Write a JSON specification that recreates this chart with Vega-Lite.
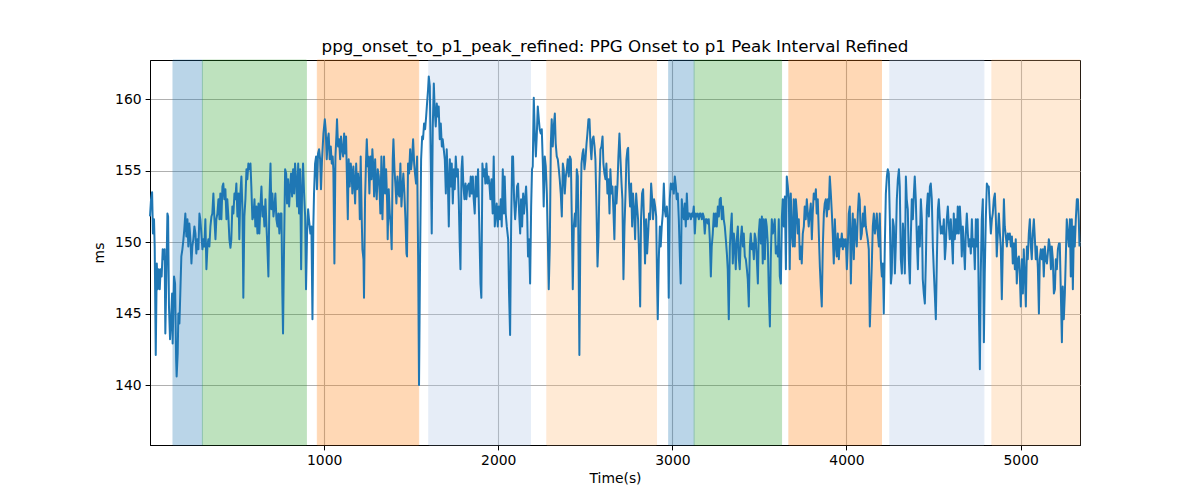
{
"$schema": "https://vega.github.io/schema/vega-lite/v6.json",
"width": 930,
"height": 385,
"autosize": {"type": "none"},
"padding": {"left": 150, "top": 60, "right": 120, "bottom": 55},
"background": "white",
"config": {
 "font": "DejaVu Sans",
 "view": {"stroke": "black", "strokeWidth": 1},
 "axis": {"labelFont": "DejaVu Sans", "labelFontSize": 13.9, "labelColor": "black", "titleFont": "DejaVu Sans", "titleFontSize": 13.9, "titleFontWeight": "normal", "titleColor": "black", "tickColor": "black", "tickSize": 4.9, "tickWidth": 1, "domainColor": "black", "gridColor": "#b0b0b0", "gridWidth": 1.1, "labelPadding": 4}
},
"title": {"text": "ppg_onset_to_p1_peak_refined: PPG Onset to p1 Peak Interval Refined", "font": "DejaVu Sans", "fontSize": 16.7, "fontWeight": "normal", "color": "black", "baseline": "alphabetic", "offset": 8, "dy": 17, "anchor": "middle"},
"datasets": {
 "bands": [
  {"start": 132, "end": 301, "phase": "A"},
  {"start": 301, "end": 898, "phase": "B"},
  {"start": 961, "end": 1543, "phase": "C"},
  {"start": 1601, "end": 2185, "phase": "D"},
  {"start": 2279, "end": 2909, "phase": "E"},
  {"start": 2979, "end": 3125, "phase": "A"},
  {"start": 3125, "end": 3627, "phase": "B"},
  {"start": 3669, "end": 4201, "phase": "C"},
  {"start": 4249, "end": 4789, "phase": "D"},
  {"start": 4835, "end": 5341, "phase": "E"}
 ],
 "series": [
{"t":0,"v":151.8},{"t":6,"v":153.0},{"t":12,"v":153.5},{"t":17,"v":150.6},{"t":23,"v":151.6},{"t":27,"v":149.7},{"t":33,"v":142.1},{"t":39,"v":148.5},{"t":44,"v":146.7},{"t":50,"v":148.1},{"t":56,"v":146.7},{"t":61,"v":148.1},{"t":67,"v":147.6},{"t":73,"v":149.5},{"t":79,"v":148.8},{"t":84,"v":149.5},{"t":88,"v":143.6},{"t":94,"v":147.6},{"t":100,"v":152.0},{"t":104,"v":151.8},{"t":109,"v":145.5},{"t":115,"v":143.2},{"t":121,"v":144.6},{"t":127,"v":146.4},{"t":130,"v":142.9},{"t":138,"v":147.6},{"t":144,"v":147.1},{"t":150,"v":141.8},{"t":153,"v":140.6},{"t":159,"v":142.2},{"t":163,"v":145.0},{"t":169,"v":144.3},{"t":174,"v":146.4},{"t":180,"v":149.0},{"t":186,"v":149.5},{"t":192,"v":150.2},{"t":197,"v":150.9},{"t":203,"v":152.0},{"t":209,"v":150.4},{"t":215,"v":151.6},{"t":220,"v":149.7},{"t":226,"v":151.3},{"t":232,"v":150.2},{"t":238,"v":148.5},{"t":243,"v":149.7},{"t":249,"v":150.2},{"t":255,"v":151.1},{"t":261,"v":150.6},{"t":266,"v":149.2},{"t":272,"v":150.2},{"t":278,"v":149.5},{"t":284,"v":152.0},{"t":289,"v":151.6},{"t":295,"v":150.6},{"t":301,"v":149.5},{"t":307,"v":150.2},{"t":312,"v":149.7},{"t":318,"v":151.6},{"t":324,"v":148.1},{"t":330,"v":149.7},{"t":335,"v":150.2},{"t":341,"v":149.7},{"t":347,"v":151.1},{"t":353,"v":151.8},{"t":358,"v":152.0},{"t":364,"v":153.4},{"t":370,"v":151.6},{"t":376,"v":150.2},{"t":381,"v":151.6},{"t":387,"v":152.0},{"t":393,"v":153.0},{"t":399,"v":151.6},{"t":404,"v":153.4},{"t":410,"v":151.6},{"t":416,"v":153.9},{"t":421,"v":154.1},{"t":427,"v":153.0},{"t":433,"v":153.7},{"t":439,"v":151.6},{"t":444,"v":153.0},{"t":450,"v":151.8},{"t":456,"v":150.2},{"t":462,"v":149.6},{"t":467,"v":150.2},{"t":473,"v":152.5},{"t":479,"v":152.0},{"t":485,"v":153.4},{"t":490,"v":153.0},{"t":496,"v":154.1},{"t":502,"v":151.8},{"t":508,"v":153.4},{"t":513,"v":150.2},{"t":519,"v":153.4},{"t":525,"v":154.6},{"t":531,"v":152.3},{"t":536,"v":146.1},{"t":542,"v":151.8},{"t":548,"v":153.0},{"t":554,"v":155.1},{"t":559,"v":154.4},{"t":565,"v":155.5},{"t":571,"v":155.1},{"t":577,"v":155.5},{"t":582,"v":153.9},{"t":588,"v":151.6},{"t":594,"v":151.8},{"t":600,"v":153.0},{"t":605,"v":151.1},{"t":611,"v":152.5},{"t":617,"v":150.6},{"t":623,"v":152.7},{"t":628,"v":150.6},{"t":634,"v":152.5},{"t":640,"v":153.9},{"t":646,"v":151.8},{"t":651,"v":152.5},{"t":657,"v":151.1},{"t":663,"v":153.0},{"t":669,"v":151.1},{"t":674,"v":149.7},{"t":680,"v":147.6},{"t":686,"v":153.0},{"t":692,"v":155.5},{"t":697,"v":152.3},{"t":703,"v":153.4},{"t":709,"v":151.8},{"t":715,"v":152.5},{"t":720,"v":153.4},{"t":726,"v":151.6},{"t":732,"v":151.1},{"t":737,"v":152.0},{"t":743,"v":150.6},{"t":749,"v":152.0},{"t":755,"v":152.0},{"t":760,"v":146.4},{"t":764,"v":143.6},{"t":770,"v":149.7},{"t":776,"v":155.1},{"t":782,"v":154.8},{"t":787,"v":152.7},{"t":793,"v":154.4},{"t":799,"v":152.5},{"t":805,"v":153.9},{"t":810,"v":154.8},{"t":816,"v":153.2},{"t":822,"v":155.1},{"t":828,"v":153.4},{"t":833,"v":155.5},{"t":839,"v":154.4},{"t":845,"v":152.5},{"t":851,"v":155.5},{"t":856,"v":152.0},{"t":862,"v":155.1},{"t":868,"v":148.1},{"t":873,"v":153.4},{"t":879,"v":155.5},{"t":885,"v":153.4},{"t":891,"v":151.8},{"t":896,"v":146.7},{"t":902,"v":150.6},{"t":908,"v":152.3},
{"t":913,"v":151.6},{"t":921,"v":150.6},{"t":927,"v":151.1},{"t":933,"v":144.6},{"t":938,"v":151.1},{"t":942,"v":153.4},{"t":948,"v":155.5},{"t":954,"v":156.0},{"t":959,"v":153.7},{"t":965,"v":156.2},{"t":971,"v":156.5},{"t":977,"v":155.8},{"t":982,"v":153.7},{"t":988,"v":155.8},{"t":996,"v":157.6},{"t":1004,"v":158.6},{"t":1009,"v":157.9},{"t":1015,"v":155.8},{"t":1021,"v":157.2},{"t":1026,"v":157.6},{"t":1032,"v":155.8},{"t":1038,"v":156.7},{"t":1044,"v":155.5},{"t":1049,"v":156.0},{"t":1053,"v":155.1},{"t":1059,"v":148.5},{"t":1065,"v":156.0},{"t":1071,"v":157.6},{"t":1074,"v":158.6},{"t":1080,"v":156.7},{"t":1086,"v":157.2},{"t":1092,"v":155.8},{"t":1097,"v":157.4},{"t":1103,"v":156.5},{"t":1109,"v":156.0},{"t":1115,"v":157.6},{"t":1120,"v":156.2},{"t":1126,"v":157.4},{"t":1132,"v":153.9},{"t":1136,"v":151.6},{"t":1141,"v":155.8},{"t":1147,"v":153.9},{"t":1153,"v":155.5},{"t":1159,"v":154.6},{"t":1162,"v":153.4},{"t":1168,"v":155.3},{"t":1174,"v":153.9},{"t":1178,"v":152.7},{"t":1184,"v":155.5},{"t":1189,"v":153.7},{"t":1195,"v":154.8},{"t":1201,"v":153.9},{"t":1205,"v":151.6},{"t":1210,"v":156.0},{"t":1216,"v":151.6},{"t":1220,"v":149.5},{"t":1226,"v":148.8},{"t":1229,"v":146.1},{"t":1235,"v":153.0},{"t":1241,"v":155.8},{"t":1245,"v":157.2},{"t":1251,"v":155.3},{"t":1254,"v":156.0},{"t":1260,"v":153.4},{"t":1266,"v":156.0},{"t":1272,"v":154.4},{"t":1277,"v":156.5},{"t":1283,"v":155.1},{"t":1287,"v":153.2},{"t":1293,"v":155.8},{"t":1298,"v":153.9},{"t":1302,"v":153.0},{"t":1308,"v":155.1},{"t":1314,"v":154.6},{"t":1319,"v":153.4},{"t":1323,"v":152.0},{"t":1329,"v":156.0},{"t":1335,"v":151.6},{"t":1341,"v":154.8},{"t":1344,"v":156.0},{"t":1350,"v":153.4},{"t":1356,"v":155.1},{"t":1362,"v":152.7},{"t":1365,"v":150.2},{"t":1371,"v":153.7},{"t":1377,"v":152.0},{"t":1383,"v":151.1},{"t":1388,"v":149.5},{"t":1394,"v":155.8},{"t":1398,"v":157.2},{"t":1404,"v":155.1},{"t":1410,"v":153.9},{"t":1415,"v":152.7},{"t":1421,"v":154.6},{"t":1427,"v":153.4},{"t":1432,"v":153.2},{"t":1438,"v":155.5},{"t":1444,"v":152.5},{"t":1450,"v":153.9},{"t":1455,"v":154.8},{"t":1461,"v":153.4},{"t":1467,"v":151.6},{"t":1473,"v":149.2},{"t":1476,"v":149.0},{"t":1482,"v":155.5},{"t":1488,"v":154.8},{"t":1494,"v":156.5},{"t":1499,"v":155.1},{"t":1505,"v":155.8},{"t":1511,"v":157.2},{"t":1517,"v":155.5},{"t":1522,"v":154.8},{"t":1528,"v":154.1},{"t":1534,"v":156.0},{"t":1540,"v":148.8},{"t":1545,"v":140.0},{"t":1551,"v":148.8},{"t":1557,"v":155.8},{"t":1563,"v":157.4},{"t":1568,"v":157.2},{"t":1574,"v":158.3},{"t":1580,"v":157.9},{"t":1586,"v":158.8},{"t":1591,"v":159.7},{"t":1597,"v":160.7},{"t":1601,"v":161.6},{"t":1607,"v":160.9},{"t":1612,"v":156.2},{"t":1618,"v":150.6},{"t":1624,"v":158.1},{"t":1630,"v":161.1},{"t":1635,"v":159.3},{"t":1641,"v":158.1},{"t":1647,"v":159.7},{"t":1653,"v":158.8},{"t":1658,"v":159.5},{"t":1664,"v":157.2},{"t":1670,"v":158.3},{"t":1676,"v":156.7},{"t":1681,"v":157.2},{"t":1687,"v":156.5},{"t":1693,"v":155.8},{"t":1699,"v":153.4},{"t":1704,"v":156.5},{"t":1710,"v":154.6},{"t":1716,"v":151.1},{"t":1722,"v":155.8},{"t":1727,"v":153.9},{"t":1733,"v":155.5},{"t":1739,"v":152.7},{"t":1745,"v":155.1},{"t":1750,"v":153.7},{"t":1756,"v":156.0},{"t":1762,"v":154.6},{"t":1768,"v":155.1},{"t":1773,"v":153.0},{"t":1779,"v":149.7},{"t":1783,"v":148.1},{"t":1789,"v":155.1},{"t":1794,"v":156.0},{"t":1800,"v":153.9},{"t":1806,"v":153.0},{"t":1812,"v":154.1},{"t":1817,"v":153.0},{"t":1823,"v":153.9},
{"t":1831,"v":154.1},{"t":1836,"v":153.2},{"t":1842,"v":154.6},{"t":1848,"v":153.4},{"t":1854,"v":154.6},{"t":1859,"v":153.0},{"t":1865,"v":152.0},{"t":1871,"v":154.6},{"t":1877,"v":153.2},{"t":1884,"v":155.1},{"t":1892,"v":150.6},{"t":1898,"v":147.1},{"t":1903,"v":146.1},{"t":1909,"v":155.5},{"t":1915,"v":154.6},{"t":1921,"v":155.1},{"t":1926,"v":154.1},{"t":1932,"v":155.5},{"t":1938,"v":154.1},{"t":1944,"v":154.6},{"t":1949,"v":154.1},{"t":1955,"v":153.0},{"t":1961,"v":154.4},{"t":1968,"v":152.0},{"t":1974,"v":156.0},{"t":1980,"v":151.1},{"t":1986,"v":152.0},{"t":1991,"v":152.7},{"t":1997,"v":151.1},{"t":2003,"v":152.5},{"t":2009,"v":151.6},{"t":2014,"v":153.0},{"t":2020,"v":151.1},{"t":2026,"v":155.1},{"t":2032,"v":152.0},{"t":2037,"v":154.6},{"t":2043,"v":152.0},{"t":2049,"v":151.1},{"t":2057,"v":150.2},{"t":2062,"v":146.4},{"t":2068,"v":143.5},{"t":2074,"v":151.1},{"t":2080,"v":156.0},{"t":2085,"v":156.0},{"t":2091,"v":153.0},{"t":2097,"v":151.6},{"t":2103,"v":152.7},{"t":2108,"v":153.9},{"t":2114,"v":154.1},{"t":2120,"v":152.0},{"t":2126,"v":150.6},{"t":2131,"v":153.0},{"t":2137,"v":151.1},{"t":2143,"v":153.4},{"t":2148,"v":152.0},{"t":2154,"v":153.0},{"t":2160,"v":153.9},{"t":2166,"v":152.0},{"t":2171,"v":149.0},{"t":2177,"v":150.2},{"t":2183,"v":147.1},{"t":2189,"v":152.5},{"t":2194,"v":155.1},{"t":2198,"v":155.3},{"t":2204,"v":160.1},{"t":2210,"v":157.6},{"t":2216,"v":156.0},{"t":2221,"v":157.4},{"t":2227,"v":159.5},{"t":2233,"v":158.6},{"t":2238,"v":157.9},{"t":2244,"v":157.6},{"t":2250,"v":157.9},{"t":2256,"v":155.5},{"t":2261,"v":152.5},{"t":2267,"v":156.0},{"t":2273,"v":155.3},{"t":2279,"v":153.4},{"t":2284,"v":150.6},{"t":2290,"v":146.7},{"t":2296,"v":149.7},{"t":2302,"v":156.9},{"t":2307,"v":158.6},{"t":2313,"v":156.7},{"t":2319,"v":158.1},{"t":2325,"v":159.0},{"t":2330,"v":156.9},{"t":2336,"v":156.0},{"t":2342,"v":155.8},{"t":2348,"v":155.1},{"t":2353,"v":154.4},{"t":2359,"v":153.4},{"t":2365,"v":151.8},{"t":2371,"v":155.5},{"t":2376,"v":155.1},{"t":2382,"v":153.4},{"t":2388,"v":154.6},{"t":2394,"v":155.1},{"t":2399,"v":155.8},{"t":2405,"v":154.6},{"t":2411,"v":156.0},{"t":2417,"v":155.8},{"t":2422,"v":152.0},{"t":2428,"v":146.7},{"t":2434,"v":151.1},{"t":2440,"v":152.0},{"t":2445,"v":151.1},{"t":2451,"v":155.1},{"t":2457,"v":154.6},{"t":2463,"v":146.4},{"t":2466,"v":142.1},{"t":2472,"v":151.1},{"t":2478,"v":155.5},{"t":2484,"v":156.2},{"t":2489,"v":156.5},{"t":2495,"v":155.1},{"t":2501,"v":155.8},{"t":2507,"v":156.9},{"t":2512,"v":157.6},{"t":2518,"v":158.6},{"t":2524,"v":158.6},{"t":2530,"v":156.7},{"t":2535,"v":155.8},{"t":2541,"v":157.2},{"t":2547,"v":157.4},{"t":2553,"v":156.7},{"t":2558,"v":155.8},{"t":2564,"v":152.5},{"t":2570,"v":148.3},{"t":2576,"v":150.4},{"t":2581,"v":154.1},{"t":2587,"v":156.5},{"t":2593,"v":156.7},{"t":2599,"v":157.4},{"t":2604,"v":155.5},{"t":2610,"v":154.8},{"t":2616,"v":154.4},{"t":2621,"v":155.5},{"t":2627,"v":153.4},{"t":2633,"v":154.4},{"t":2639,"v":152.0},{"t":2644,"v":155.1},{"t":2650,"v":153.4},{"t":2656,"v":153.9},{"t":2662,"v":152.0},{"t":2667,"v":150.2},{"t":2673,"v":153.9},{"t":2679,"v":152.7},{"t":2685,"v":154.1},{"t":2690,"v":156.0},{"t":2696,"v":157.6},{"t":2702,"v":155.8},{"t":2708,"v":154.1},{"t":2713,"v":153.0},{"t":2719,"v":147.4},{"t":2725,"v":151.1},{"t":2731,"v":153.4},{"t":2736,"v":155.8},{"t":2742,"v":156.5},
{"t":2746,"v":156.6},{"t":2751,"v":154.1},{"t":2757,"v":152.5},{"t":2763,"v":154.1},{"t":2769,"v":151.1},{"t":2774,"v":153.4},{"t":2780,"v":152.3},{"t":2786,"v":150.2},{"t":2792,"v":153.4},{"t":2797,"v":152.5},{"t":2803,"v":151.6},{"t":2809,"v":149.0},{"t":2815,"v":145.5},{"t":2820,"v":151.6},{"t":2826,"v":153.4},{"t":2832,"v":153.7},{"t":2838,"v":151.1},{"t":2843,"v":148.5},{"t":2849,"v":151.6},{"t":2855,"v":149.2},{"t":2861,"v":150.6},{"t":2866,"v":152.0},{"t":2872,"v":151.6},{"t":2878,"v":154.1},{"t":2884,"v":153.0},{"t":2889,"v":151.6},{"t":2895,"v":153.0},{"t":2901,"v":152.5},{"t":2907,"v":151.8},{"t":2912,"v":147.4},{"t":2916,"v":144.6},{"t":2922,"v":148.8},{"t":2928,"v":151.1},{"t":2933,"v":149.7},{"t":2939,"v":151.1},{"t":2945,"v":152.0},{"t":2951,"v":154.1},{"t":2956,"v":152.3},{"t":2962,"v":151.8},{"t":2968,"v":152.5},{"t":2974,"v":151.6},{"t":2979,"v":146.1},{"t":2985,"v":153.0},{"t":2991,"v":154.1},{"t":2997,"v":153.7},{"t":3002,"v":154.1},{"t":3008,"v":153.4},{"t":3014,"v":154.6},{"t":3020,"v":153.9},{"t":3025,"v":153.0},{"t":3031,"v":153.4},{"t":3037,"v":151.6},{"t":3043,"v":149.0},{"t":3048,"v":147.1},{"t":3054,"v":153.0},{"t":3060,"v":152.0},{"t":3066,"v":151.6},{"t":3071,"v":152.7},{"t":3077,"v":151.1},{"t":3083,"v":153.4},{"t":3089,"v":151.6},{"t":3094,"v":152.0},{"t":3100,"v":152.0},{"t":3106,"v":151.6},{"t":3112,"v":152.0},{"t":3117,"v":151.8},{"t":3123,"v":152.5},{"t":3129,"v":150.6},{"t":3135,"v":152.0},{"t":3140,"v":151.8},{"t":3146,"v":152.0},{"t":3152,"v":151.6},{"t":3158,"v":152.0},{"t":3163,"v":152.0},{"t":3169,"v":151.6},{"t":3175,"v":152.0},{"t":3180,"v":151.8},{"t":3186,"v":150.6},{"t":3192,"v":151.6},{"t":3198,"v":151.6},{"t":3203,"v":151.3},{"t":3209,"v":151.6},{"t":3215,"v":150.2},{"t":3221,"v":147.6},{"t":3226,"v":149.7},{"t":3232,"v":150.6},{"t":3238,"v":152.0},{"t":3244,"v":151.1},{"t":3249,"v":152.0},{"t":3255,"v":151.1},{"t":3261,"v":152.5},{"t":3267,"v":151.8},{"t":3272,"v":153.0},{"t":3278,"v":153.1},{"t":3284,"v":151.6},{"t":3290,"v":152.5},{"t":3295,"v":151.6},{"t":3301,"v":151.1},{"t":3307,"v":150.2},{"t":3313,"v":149.2},{"t":3318,"v":148.1},{"t":3324,"v":144.6},{"t":3330,"v":149.7},{"t":3336,"v":151.1},{"t":3341,"v":152.0},{"t":3347,"v":148.5},{"t":3353,"v":150.6},{"t":3359,"v":149.7},{"t":3364,"v":148.1},{"t":3370,"v":150.2},{"t":3376,"v":151.1},{"t":3382,"v":148.8},{"t":3387,"v":148.1},{"t":3393,"v":150.2},{"t":3399,"v":151.1},{"t":3405,"v":149.7},{"t":3410,"v":150.6},{"t":3416,"v":149.0},{"t":3422,"v":148.8},{"t":3428,"v":148.1},{"t":3433,"v":147.4},{"t":3439,"v":145.5},{"t":3445,"v":149.7},{"t":3450,"v":150.6},{"t":3456,"v":149.5},{"t":3462,"v":149.9},{"t":3468,"v":148.8},{"t":3473,"v":150.6},{"t":3479,"v":150.2},{"t":3485,"v":148.8},{"t":3491,"v":147.1},{"t":3496,"v":150.6},{"t":3502,"v":151.6},{"t":3508,"v":149.9},{"t":3514,"v":151.8},{"t":3519,"v":148.5},{"t":3525,"v":151.6},{"t":3531,"v":148.8},{"t":3537,"v":151.6},{"t":3542,"v":151.1},{"t":3548,"v":149.9},{"t":3554,"v":146.4},{"t":3560,"v":144.1},{"t":3565,"v":148.8},{"t":3571,"v":151.6},{"t":3577,"v":150.6},{"t":3583,"v":151.1},{"t":3588,"v":151.6},{"t":3594,"v":149.2},{"t":3600,"v":149.7},{"t":3606,"v":149.0},{"t":3611,"v":151.6},{"t":3617,"v":147.6},{"t":3623,"v":147.1},{"t":3629,"v":151.8},{"t":3634,"v":153.0},{"t":3640,"v":151.1},{"t":3646,"v":153.2},{"t":3652,"v":148.1},{"t":3657,"v":154.6},{"t":3663,"v":153.9},{"t":3669,"v":153.0},
{"t":3674,"v":148.1},{"t":3680,"v":153.4},{"t":3686,"v":150.6},{"t":3692,"v":149.7},{"t":3697,"v":153.0},{"t":3703,"v":149.7},{"t":3709,"v":153.0},{"t":3715,"v":152.0},{"t":3720,"v":150.6},{"t":3726,"v":151.6},{"t":3732,"v":148.8},{"t":3738,"v":149.7},{"t":3743,"v":148.5},{"t":3749,"v":150.6},{"t":3755,"v":151.1},{"t":3760,"v":152.5},{"t":3766,"v":151.6},{"t":3772,"v":153.0},{"t":3778,"v":152.0},{"t":3783,"v":151.1},{"t":3789,"v":152.0},{"t":3795,"v":152.7},{"t":3801,"v":150.2},{"t":3806,"v":152.0},{"t":3812,"v":153.4},{"t":3818,"v":153.0},{"t":3824,"v":153.7},{"t":3829,"v":152.0},{"t":3835,"v":153.0},{"t":3841,"v":150.6},{"t":3847,"v":148.3},{"t":3852,"v":146.9},{"t":3858,"v":145.5},{"t":3864,"v":149.7},{"t":3870,"v":152.0},{"t":3875,"v":152.7},{"t":3881,"v":153.0},{"t":3887,"v":151.8},{"t":3893,"v":153.0},{"t":3898,"v":152.3},{"t":3904,"v":154.6},{"t":3910,"v":153.4},{"t":3916,"v":152.0},{"t":3921,"v":150.6},{"t":3927,"v":148.5},{"t":3933,"v":151.6},{"t":3939,"v":149.7},{"t":3944,"v":149.0},{"t":3950,"v":150.6},{"t":3956,"v":148.8},{"t":3962,"v":150.2},{"t":3967,"v":149.7},{"t":3973,"v":150.6},{"t":3979,"v":149.5},{"t":3985,"v":150.2},{"t":3990,"v":149.7},{"t":3996,"v":150.2},{"t":4002,"v":148.1},{"t":4008,"v":149.9},{"t":4013,"v":152.0},{"t":4019,"v":152.5},{"t":4025,"v":147.1},{"t":4031,"v":150.6},{"t":4036,"v":152.0},{"t":4042,"v":148.8},{"t":4048,"v":151.6},{"t":4054,"v":150.6},{"t":4059,"v":149.7},{"t":4065,"v":152.0},{"t":4071,"v":153.4},{"t":4076,"v":153.0},{"t":4082,"v":150.2},{"t":4088,"v":150.6},{"t":4094,"v":152.0},{"t":4099,"v":151.1},{"t":4105,"v":152.5},{"t":4111,"v":151.1},{"t":4117,"v":150.6},{"t":4122,"v":150.2},{"t":4128,"v":149.5},{"t":4134,"v":144.1},{"t":4140,"v":146.4},{"t":4145,"v":148.3},{"t":4151,"v":151.1},{"t":4157,"v":152.0},{"t":4163,"v":150.6},{"t":4168,"v":151.1},{"t":4174,"v":152.0},{"t":4180,"v":150.6},{"t":4186,"v":149.7},{"t":4191,"v":152.0},{"t":4197,"v":148.8},{"t":4203,"v":147.6},{"t":4209,"v":148.5},{"t":4214,"v":145.0},{"t":4220,"v":149.7},{"t":4226,"v":153.4},{"t":4232,"v":154.6},{"t":4237,"v":155.1},{"t":4243,"v":154.8},{"t":4249,"v":151.6},{"t":4255,"v":147.1},{"t":4260,"v":147.8},{"t":4266,"v":151.6},{"t":4272,"v":151.1},{"t":4278,"v":147.8},{"t":4283,"v":149.7},{"t":4289,"v":153.0},{"t":4295,"v":154.4},{"t":4301,"v":155.1},{"t":4306,"v":153.9},{"t":4312,"v":148.8},{"t":4318,"v":147.8},{"t":4324,"v":151.3},{"t":4329,"v":150.2},{"t":4335,"v":147.8},{"t":4341,"v":154.6},{"t":4346,"v":153.0},{"t":4352,"v":152.3},{"t":4358,"v":148.8},{"t":4364,"v":147.1},{"t":4369,"v":150.2},{"t":4375,"v":153.0},{"t":4381,"v":151.6},{"t":4387,"v":153.4},{"t":4392,"v":154.6},{"t":4398,"v":153.0},{"t":4404,"v":150.2},{"t":4410,"v":148.1},{"t":4415,"v":151.1},{"t":4421,"v":149.7},{"t":4427,"v":153.0},{"t":4433,"v":151.6},{"t":4438,"v":147.4},{"t":4444,"v":146.4},{"t":4450,"v":145.7},{"t":4456,"v":148.8},{"t":4461,"v":152.3},{"t":4467,"v":153.4},{"t":4473,"v":151.8},{"t":4479,"v":153.9},{"t":4484,"v":154.1},{"t":4490,"v":153.0},{"t":4496,"v":149.7},{"t":4502,"v":147.8},{"t":4507,"v":146.4},{"t":4513,"v":144.6},{"t":4519,"v":148.8},{"t":4525,"v":152.3},{"t":4530,"v":153.0},{"t":4536,"v":151.6},{"t":4542,"v":150.6},{"t":4548,"v":151.1},{"t":4553,"v":150.6},{"t":4559,"v":151.6},{"t":4565,"v":148.8},{"t":4570,"v":149.7},{"t":4576,"v":151.6},{"t":4582,"v":152.5},{"t":4588,"v":151.1},
{"t":4593,"v":150.2},{"t":4599,"v":151.6},{"t":4605,"v":150.2},{"t":4611,"v":148.5},{"t":4616,"v":152.0},{"t":4622,"v":150.2},{"t":4628,"v":151.6},{"t":4634,"v":150.6},{"t":4639,"v":152.5},{"t":4645,"v":150.6},{"t":4651,"v":152.5},{"t":4657,"v":151.1},{"t":4662,"v":149.0},{"t":4668,"v":151.1},{"t":4674,"v":149.7},{"t":4680,"v":148.1},{"t":4685,"v":150.6},{"t":4691,"v":152.0},{"t":4697,"v":150.6},{"t":4702,"v":149.7},{"t":4708,"v":150.2},{"t":4714,"v":149.2},{"t":4720,"v":151.6},{"t":4725,"v":149.7},{"t":4731,"v":150.2},{"t":4737,"v":148.1},{"t":4743,"v":151.6},{"t":4748,"v":149.7},{"t":4754,"v":151.6},{"t":4760,"v":145.5},{"t":4766,"v":141.1},{"t":4771,"v":147.8},{"t":4777,"v":151.6},{"t":4783,"v":153.0},{"t":4789,"v":143.0},{"t":4794,"v":147.8},{"t":4800,"v":151.6},{"t":4806,"v":154.1},{"t":4812,"v":153.9},{"t":4817,"v":153.9},{"t":4823,"v":152.0},{"t":4829,"v":150.6},{"t":4835,"v":151.6},{"t":4840,"v":152.0},{"t":4846,"v":153.0},{"t":4852,"v":153.4},{"t":4858,"v":151.6},{"t":4863,"v":149.0},{"t":4869,"v":150.6},{"t":4875,"v":152.0},{"t":4881,"v":150.6},{"t":4886,"v":149.7},{"t":4892,"v":146.0},{"t":4898,"v":149.7},{"t":4904,"v":153.0},{"t":4909,"v":151.1},{"t":4915,"v":150.4},{"t":4921,"v":149.7},{"t":4927,"v":150.6},{"t":4932,"v":150.2},{"t":4938,"v":150.6},{"t":4944,"v":149.7},{"t":4950,"v":150.4},{"t":4955,"v":148.5},{"t":4961,"v":149.9},{"t":4967,"v":148.1},{"t":4972,"v":150.2},{"t":4978,"v":147.1},{"t":4984,"v":148.8},{"t":4990,"v":149.0},{"t":4995,"v":147.8},{"t":5001,"v":145.5},{"t":5007,"v":148.8},{"t":5013,"v":146.4},{"t":5018,"v":149.5},{"t":5024,"v":147.8},{"t":5030,"v":145.5},{"t":5036,"v":149.7},{"t":5041,"v":148.8},{"t":5047,"v":150.6},{"t":5053,"v":151.6},{"t":5059,"v":149.7},{"t":5064,"v":148.8},{"t":5070,"v":150.6},{"t":5076,"v":151.6},{"t":5082,"v":150.2},{"t":5087,"v":148.8},{"t":5093,"v":149.7},{"t":5099,"v":148.2},{"t":5105,"v":145.0},{"t":5110,"v":148.8},{"t":5116,"v":149.5},{"t":5122,"v":148.8},{"t":5128,"v":149.5},{"t":5133,"v":147.6},{"t":5139,"v":149.7},{"t":5145,"v":148.8},{"t":5151,"v":148.5},{"t":5156,"v":149.2},{"t":5162,"v":150.2},{"t":5168,"v":149.7},{"t":5174,"v":148.1},{"t":5179,"v":149.7},{"t":5185,"v":148.8},{"t":5191,"v":146.4},{"t":5197,"v":146.7},{"t":5202,"v":148.8},{"t":5208,"v":148.1},{"t":5214,"v":149.5},{"t":5220,"v":149.9},{"t":5225,"v":149.9},{"t":5231,"v":146.4},{"t":5237,"v":143.0},{"t":5242,"v":146.9},{"t":5248,"v":144.6},{"t":5254,"v":146.4},{"t":5260,"v":149.2},{"t":5265,"v":151.6},{"t":5271,"v":150.6},{"t":5277,"v":149.7},{"t":5283,"v":151.6},{"t":5288,"v":147.6},{"t":5294,"v":151.6},{"t":5300,"v":146.7},{"t":5306,"v":151.1},{"t":5311,"v":149.7},{"t":5317,"v":151.6},{"t":5323,"v":153.0},{"t":5329,"v":153.0},{"t":5334,"v":151.6},{"t":5338,"v":149.7}
 ]
},
"layer": [
 {
  "data": {"name": "bands"},
  "mark": {"type": "rect", "opacity": 0.3, "strokeWidth": 1},
  "encoding": {
   "x": {"field": "start", "type": "quantitative", "scale": {"domain": [0, 5341], "nice": false, "zero": false}, "title": "Time(s)", "axis": {"values": [1000, 2000, 3000, 4000, 5000], "format": "d", "grid": true, "titlePadding": 4}},
   "x2": {"field": "end"},
   "color": {"field": "phase", "type": "nominal", "scale": {"domain": ["A", "B", "C", "D", "E"], "range": ["#1f77b4", "#2ca02c", "#ff7f0e", "#aec7e8", "#ffbb78"]}, "legend": null},
   "stroke": {"field": "phase", "type": "nominal", "scale": {"domain": ["A", "B", "C", "D", "E"], "range": ["#1f77b4", "#2ca02c", "#ff7f0e", "#aec7e8", "#ffbb78"]}, "legend": null}
  }
 },
 {
  "data": {"name": "series"},
  "mark": {"type": "line", "color": "#1f77b4", "strokeWidth": 2, "strokeJoin": "round"},
  "encoding": {
   "x": {"field": "t", "type": "quantitative", "title": "Time(s)"},
   "y": {"field": "v", "type": "quantitative", "scale": {"domain": [135.8, 162.75], "nice": false, "zero": false}, "title": "ms", "axis": {"values": [140, 145, 150, 155, 160], "grid": true, "titlePadding": 8}}
  }
 }
]
}
